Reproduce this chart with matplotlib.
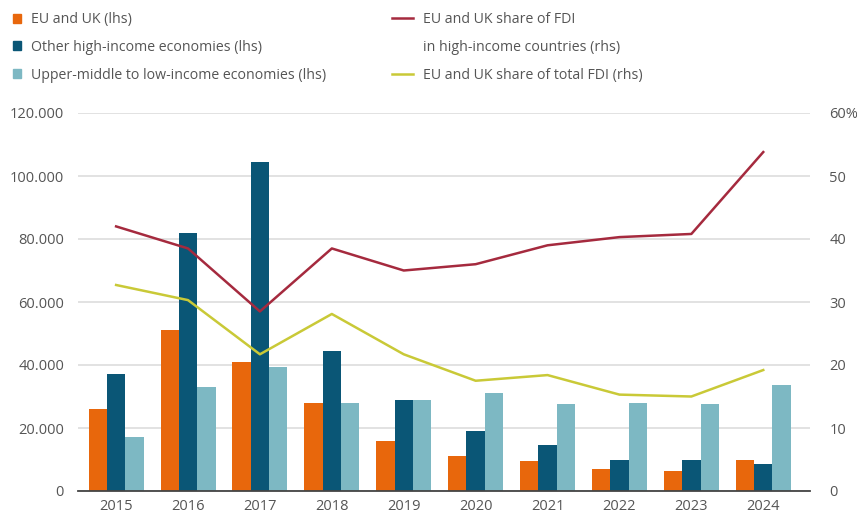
import numpy as np
import matplotlib
matplotlib.use('Agg')
import matplotlib.pyplot as plt
from matplotlib.lines import Line2D
from matplotlib.patches import Patch

# FDI by destination group, with EU/UK shares
years = ['2015', '2016', '2017', '2018', '2019', '2020', '2021', '2022', '2023', '2024']
eu_uk = [26000, 51000, 41000, 28000, 16000, 11000, 9500, 7000, 6500, 10000]
other_high = [37000, 82000, 104500, 44500, 29000, 19000, 14500, 10000, 10000, 8500]
upper_low = [17000, 33000, 39500, 28000, 29000, 31000, 27500, 28000, 27500, 33500]
share_high_income = [42.0, 38.5, 28.5, 38.5, 35.0, 36.0, 39.0, 40.3, 40.8, 53.8]
share_total = [32.7, 30.3, 21.7, 28.1, 21.7, 17.5, 18.4, 15.3, 15.0, 19.2]

ORANGE = '#E8670C'
DARK = '#0A5676'
LIGHT = '#7DB8C3'
RED = '#A52A3E'
YELLOW = '#C9C937'
TEXT = '#555555'

plt.rcParams['font.family'] = ['Open Sans', 'DejaVu Sans']

fig = plt.figure(figsize=(8.57, 5.17), dpi=100)
ax = fig.add_axes([78 / 857, 1 - 491 / 517, (810 - 78) / 857, (491 - 113) / 517])
ax2 = ax.twinx()

x = np.arange(len(years))
w = 0.255
ax.bar(x - w, eu_uk, w, color=ORANGE, zorder=2)
ax.bar(x, other_high, w, color=DARK, zorder=2)
ax.bar(x + w, upper_low, w, color=LIGHT, zorder=2)

ax2.plot(x, share_high_income, color=RED, lw=1.8)
ax2.plot(x, share_total, color=YELLOW, lw=1.8)

ax.set_xlim(-0.53, 9.65)
ax.set_ylim(0, 120000)
ax2.set_ylim(0, 60)

ax.set_yticks(range(0, 120001, 20000))
ax.set_yticklabels(['0', '20.000', '40.000', '60.000', '80.000', '100.000', '120.000'])
ax2.set_yticks(range(0, 61, 10))
ax2.set_yticklabels(['0', '10', '20', '30', '40', '50', '60%'])
ax.set_xticks(x)
ax.set_xticklabels(years)

ax.grid(axis='y', color='#dddddd', lw=1.2, zorder=0)
ax.set_axisbelow(True)
for a in (ax, ax2):
    for s in a.spines.values():
        s.set_visible(False)
    a.tick_params(length=0, labelsize=10.5, colors=TEXT)
ax.spines['bottom'].set_visible(True)
ax.spines['bottom'].set_color('#444444')
ax.spines['bottom'].set_linewidth(1.3)
ax.tick_params(axis='y', pad=10)
ax.tick_params(axis='x', pad=6)
ax2.tick_params(axis='y', pad=14)

# legend: bar series on the left, line series on the right
leg_style = dict(loc='upper left', frameon=False, fontsize=10.2, labelcolor=TEXT,
                 handletextpad=0.7, labelspacing=0.9, borderaxespad=0.2)
bar_leg = fig.legend(
    [Patch(color=ORANGE), Patch(color=DARK), Patch(color=LIGHT)],
    ['EU and UK (lhs)', 'Other high-income economies (lhs)',
     'Upper-middle to low-income economies (lhs)'],
    bbox_to_anchor=(0.005, 0.993), handlelength=0.6, handleheight=0.6, **leg_style)
line_leg = fig.legend(
    [Line2D([], [], color=RED, lw=1.8), Line2D([], [], color='none'),
     Line2D([], [], color=YELLOW, lw=1.8)],
    ['EU and UK share of FDI', 'in high-income countries (rhs)',
     'EU and UK share of total FDI (rhs)'],
    bbox_to_anchor=(383 / 857, 0.993), handlelength=1.5, **leg_style)

fig.savefig('out.png', dpi=100)
